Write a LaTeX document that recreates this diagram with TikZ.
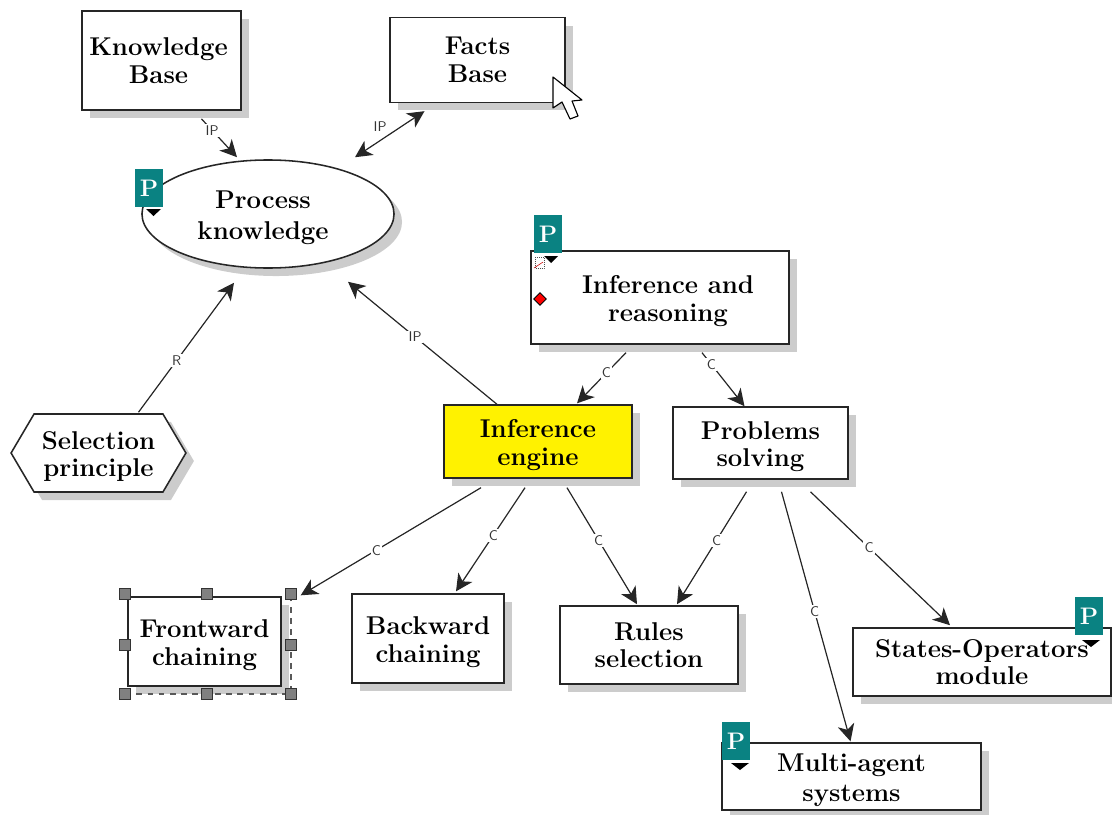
\documentclass[tikz,border=0pt]{standalone}
\usepackage{amsmath}
\usepackage{xcolor}
\usepackage{tikz}
\usetikzlibrary{positioning,calc,shapes.geometric,shapes.symbols,shadows,arrows.meta}
\definecolor{tagteal}{RGB}{10,130,130}
\newcommand{\sunkline}{\rule{0pt}{18pt}}
\tikzset{
	shade8/.style={general shadow={fill=black!20,shadow xshift=0.2cm,shadow yshift=-0.2cm}},
	concept/.style={draw=black!85,fill=white,line width=1.1pt,shade8,align=center,inner sep=0pt,font=\bfseries\fontsize{18.3}{19.5}\selectfont},
	tip/.tip={Stealth[length=12pt,width=12pt,inset=3.5pt]},
	link/.style={-tip,line width=0.85pt,draw=black!85,fill=black!85},
	lbl/.style={fill=white,text=black!80,inner sep=1pt,font=\sffamily\fontsize{10}{10}\selectfont},
	ptag/.style={fill=tagteal,text=white,minimum width=0.72cm,minimum height=0.93cm,inner sep=0pt,font=\bfseries\fontsize{17}{17}\selectfont},
	pmark/.style={fill=black,draw=none},
	handle/.style={draw=black!80,fill=black!50,line width=0.7pt,minimum size=0.26cm,inner sep=0pt},
}
\begin{document}
\begin{tikzpicture}[x=0.025cm,y=-0.025cm]
	\useasboundingbox (0,0) rectangle (1112,815);

	\node[concept,minimum width=3.97cm,minimum height=2.48cm] (kb) at (161.5,60.5) {\hspace*{-0.15cm}Knowledge\\\hspace*{-0.15cm}Base};
	\node[concept,minimum width=4.37cm,minimum height=2.12cm] (fb) at (477.5,60) {Facts\\Base};
	\node[concept,ellipse,minimum width=6.3cm,minimum height=2.7cm] (pk) at (268,214) {\sunkline\hspace*{-0.25cm}Process\\[2pt]\hspace*{-0.25cm}knowledge};
	\node[concept,minimum width=6.45cm,minimum height=2.32cm] (ir) at (660,297.5) {\sunkline\hspace*{0.4cm}Inference and\\\hspace*{0.4cm}reasoning};
	\node[concept,fill=yellow,minimum width=4.7cm,minimum height=1.82cm] (ie) at (538,441.5) {\sunkline Inference\\engine};
	\node[concept,minimum width=4.37cm,minimum height=1.8cm] (ps) at (760.5,443) {\sunkline Problems\\solving};
	\node[concept,signal,signal to=west and east,signal pointer angle=119,minimum width=4.37cm,minimum height=1.95cm] (sp) at (98.5,453) {\sunkline Selection\\principle};
	\node[concept,minimum width=3.82cm,minimum height=2.22cm] (fc) at (204.5,641.5) {\sunkline Frontward\\chaining};
	\node[concept,minimum width=3.8cm,minimum height=2.22cm] (bc) at (428,638.5) {\sunkline Backward\\chaining};
	\node[concept,minimum width=4.45cm,minimum height=1.95cm] (rs) at (649,645) {Rules\\selection};
	\node[concept,minimum width=6.45cm,minimum height=1.7cm] (so) at (982,662) {States-Operators\\module};
	\node[concept,minimum width=6.47cm,minimum height=1.67cm] (ma) at (851.5,776.5) {\sunkline Multi-agent\\[2pt]systems};

	\draw[link] ([shift={(40,8)}]kb.south) -- node[lbl,pos=0.3] {IP} ([shift={(-31,-2)}]pk.north);
	\draw[link,tip-tip] ([shift={(87,-2)}]pk.north) -- node[lbl,fill=none,pos=0.5,xshift=-0.24cm,yshift=0.18cm] {IP} ([shift={(-53,8)}]fb.south);
	\draw[link] ([shift={(40,-1)}]sp.north) -- node[lbl,pos=0.4] {R} ([shift={(-34,14)}]pk.south);
	\draw[link] ([shift={(-41,0)}]ie.north) -- node[lbl,pos=0.55] {IP} ([shift={(80,13)}]pk.south);
	\draw[link] ([shift={(-34,8)}]ir.south) -- node[lbl,pos=0.4] {C} ([shift={(39,-1)}]ie.north);
	\draw[link] ([shift={(42,8)}]ir.south) -- node[lbl,pos=0.22] {C} ([shift={(-16,0)}]ps.north);
	\draw[link] ([shift={(-57,9)}]ie.south) -- node[lbl,pos=0.58] {C} ([shift={(19,-1)}]fc.north east);
	\draw[link] ([shift={(-13,9)}]ie.south) -- node[lbl,pos=0.46] {C} ([shift={(28,-2)}]bc.north);
	\draw[link] ([shift={(29,9)}]ie.south) -- node[lbl,pos=0.45] {C} ([shift={(-12,-1)}]rs.north);
	\draw[link] ([shift={(-14,12)}]ps.south) -- node[lbl,pos=0.43] {C} ([shift={(28,-1)}]rs.north);
	\draw[link] ([shift={(21,12)}]ps.south) -- node[lbl,pos=0.48] {C} ([shift={(-1,-1)}]ma.north);
	\draw[link] ([shift={(50,12)}]ps.south) -- node[lbl,pos=0.42] {C} ([shift={(-32,-2)}]so.north);

	\node[ptag] (ptagpk) at (149,188) {P};
	\node[ptag] (ptagir) at (548,234) {P};
	\node[ptag] (ptagso) at (1089,616) {P};
	\node[ptag] (ptagma) at (736,741) {P};
	\fill[pmark] (146,209) -- (161,209) -- (153.5,216) -- cycle;
	\fill[pmark] (544,256) -- (558,256) -- (551,263) -- cycle;
	\fill[pmark] (1082,640) -- (1100,640) -- (1091,647) -- cycle;
	\fill[pmark] (731,763) -- (749,763) -- (740,770) -- cycle;

	\draw[black!70,densely dotted] (535,257) rectangle (544,268);
	\draw[red!80!black,line width=0.4pt] (534,268) -- (543,262);
	\node[diamond,fill=red,draw=black,line width=0.6pt,minimum size=0.32cm,inner sep=0pt] (redmark) at (540,299) {};

	\draw[black!65,line width=1.4pt,dash pattern=on 4pt off 4pt] (125,694) -- (291,694) -- (291,594);
	\foreach \hx/\hy in {125/594,207/594,291/594,125/645,291/645,125/694,207/694,291/694}
		\node[handle] at (\hx,\hy) {};

	\draw[fill=white,draw=black,line width=0.8pt,line join=round] (553,77) -- (553,108) -- (562,102) -- (570,119) -- (578,116) -- (572,101) -- (582,100) -- cycle;
\end{tikzpicture}
\end{document}
